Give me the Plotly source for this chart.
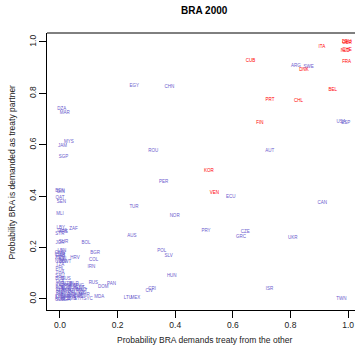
import plotly.graph_objects as go

# Red labels (BRA demands treaty)
red_labels = ["DEU", "GBR", "ITA", "NLD", "CHE", "FRA", "CUB", "DNK", "BEL",
              "PRT", "CHL", "FIN", "KOR", "VEN"]
red_x = [0.995, 0.997, 0.909, 0.990, 0.996, 0.995, 0.661, 0.847, 0.947,
         0.729, 0.828, 0.694, 0.517, 0.536]
red_y = [1.000, 0.998, 0.981, 0.965, 0.968, 0.921, 0.925, 0.890, 0.812,
         0.773, 0.769, 0.684, 0.497, 0.411]

# Blue labels
blue_labels = [
    "EGY", "CHN", "DZA", "MAR", "MYS", "JAM", "SGP", "ROU", "ARG", "SWE",
    "USA", "ESP", "AUT", "ECU", "CAN", "PRY", "CZE", "GRC", "UKR", "PER",
    "BEN", "GIN", "QAT", "SEN", "TUR", "MLI", "NOR", "LBY", "ZAF", "GHA",
    "ARE", "SYR", "AUS", "JOR", "SUR", "BOL", "POL", "LBN", "BGR", "OMN",
    "CMR", "GAB", "KEN", "HRV", "COL", "SLV", "IDN", "NGA", "BDI", "KWT",
    "TZA", "IRN", "PHL", "THA", "HUN", "SAU", "BHS", "MUS", "LKA", "RUS",
    "PAN", "DOM", "LTU", "MEX", "MDA", "SYC", "ISR", "TWN", "CIV", "CRI",
    "NPL", "UZB", "BLR", "KAZ", "ARM", "GEO", "MNG", "AZE", "KGZ", "TJK",
    "EST", "LVA", "SVK", "SVN", "MKD", "ALB", "BIH", "CYP", "MLT", "ISL",
    "LUX", "IRL", "NZL", "PAK", "BGD", "IND", "VNM", "MMR", "KHM", "LAO",
    "PRK", "ZWE", "AGO", "MOZ", "ZMB", "ETH", "SDN", "UGA",
]
blue_x = [
    0.258, 0.380, 0.006, 0.017, 0.031, 0.009, 0.012, 0.324, 0.819, 0.863,
    0.976, 0.992, 0.728, 0.593, 0.910, 0.507, 0.643, 0.628, 0.808, 0.360,
    0.000, 0.003, 0.000, 0.005, 0.257, 0.000, 0.398, 0.003, 0.047, 0.008,
    0.012, 0.000, 0.250, 0.000, 0.012, 0.090, 0.353, 0.007, 0.122, 0.000,
    0.000, 0.002, 0.000, 0.052, 0.117, 0.377, 0.008, 0.000, 0.010, 0.022,
    0.000, 0.109, 0.000, 0.000, 0.388, 0.000, 0.000, 0.020, 0.000, 0.116,
    0.179, 0.150, 0.236, 0.262, 0.136, 0.098, 0.727, 0.977, 0.310, 0.320,
    0.005, 0.025, 0.050, 0.000, 0.020, 0.040, 0.065, 0.000, 0.020, 0.045,
    0.070, 0.000, 0.020, 0.045, 0.075, 0.000, 0.025, 0.050, 0.080, 0.000,
    0.020, 0.045, 0.075, 0.000, 0.020, 0.040, 0.060, 0.085, 0.000, 0.020,
    0.040, 0.065, 0.000, 0.020, 0.040, 0.065, 0.000, 0.020,
]
blue_y = [
    0.831, 0.824, 0.739, 0.724, 0.611, 0.594, 0.554, 0.575, 0.907, 0.902,
    0.688, 0.686, 0.575, 0.396, 0.372, 0.263, 0.261, 0.240, 0.236, 0.454,
    0.420, 0.415, 0.392, 0.376, 0.357, 0.331, 0.322, 0.276, 0.272, 0.266,
    0.261, 0.252, 0.244, 0.219, 0.222, 0.217, 0.187, 0.187, 0.178, 0.179,
    0.172, 0.166, 0.160, 0.158, 0.154, 0.166, 0.155, 0.150, 0.143, 0.143,
    0.132, 0.123, 0.118, 0.102, 0.088, 0.090, 0.079, 0.079, 0.068, 0.063,
    0.060, 0.046, 0.003, 0.003, 0.009, 0.000, 0.039, 0.001, 0.030, 0.040,
    0.060, 0.060, 0.057, 0.052, 0.052, 0.052, 0.052, 0.045, 0.045, 0.045,
    0.045, 0.037, 0.037, 0.037, 0.037, 0.030, 0.030, 0.030, 0.030, 0.022,
    0.022, 0.022, 0.022, 0.015, 0.015, 0.015, 0.015, 0.015, 0.008, 0.008,
    0.008, 0.008, 0.000, 0.000, 0.000, 0.000, -0.005, -0.005,
]

tick_vals = [0.0, 0.2, 0.4, 0.6, 0.8, 1.0]
tick_text = ["0.0", "0.2", "0.4", "0.6", "0.8", "1.0"]

FONT = "Liberation Sans, Arial, Helvetica, sans-serif"
BLUE = "#6A5ACD"
RED = "#FF0000"

fig = go.Figure()
fig.add_trace(go.Scatter(x=blue_x, y=blue_y, text=blue_labels, mode="text",
                         textposition="middle center", cliponaxis=False,
                         textfont=dict(family=FONT, size=4.5, color=BLUE),
                         hoverinfo="text", showlegend=False))
fig.add_trace(go.Scatter(x=red_x, y=red_y, text=red_labels, mode="text",
                         textposition="middle center", cliponaxis=False,
                         textfont=dict(family=FONT, size=4.5, color=RED),
                         hoverinfo="text", showlegend=False))

axis_common = dict(showgrid=False, zeroline=False, showline=True,
                   automargin=False,
                   linecolor="black", linewidth=1, ticks="outside",
                   ticklen=7, tickwidth=1, tickcolor="black",
                   tickvals=tick_vals, ticktext=tick_text,
                   tickfont=dict(family=FONT, size=8.5, color="#222222"))

fig.update_layout(
    width=355, height=352,
    margin=dict(l=47, r=0, t=33, b=42, autoexpand=False),
    paper_bgcolor="white", plot_bgcolor="white",
    xaxis=dict(range=[-0.045, 1.024], **axis_common),
    yaxis=dict(range=[-0.043, 1.035], tickangle=-90, **axis_common),
    shapes=[dict(type="line", xref="paper", yref="paper", x0=0, x1=1,
                 y0=1, y1=1, line=dict(color="black", width=1))],
    annotations=[
        dict(text="<b>BRA 2000</b>", xref="paper", yref="paper",
             x=0.51, y=1.083, showarrow=False,
             xanchor="center", yanchor="middle",
             font=dict(family=FONT, size=10, color="black")),
        dict(text="Probability BRA demands treaty from the other",
             xref="paper", yref="paper", x=0.51, y=-0.108, showarrow=False,
             xanchor="center", yanchor="middle",
             font=dict(family=FONT, size=8.5, color="#222222")),
        dict(text="Probability BRA is demanded as treaty partner",
             xref="paper", yref="paper", x=-0.114, y=0.5, showarrow=False,
             xanchor="center", yanchor="middle", textangle=-90,
             font=dict(family=FONT, size=8.5, color="#222222")),
    ],
)

fig.write_html(
    "out.html",
    config={"displayModeBar": False},
    post_script="document.body.style.margin='0';document.body.style.overflow='hidden';",
)
